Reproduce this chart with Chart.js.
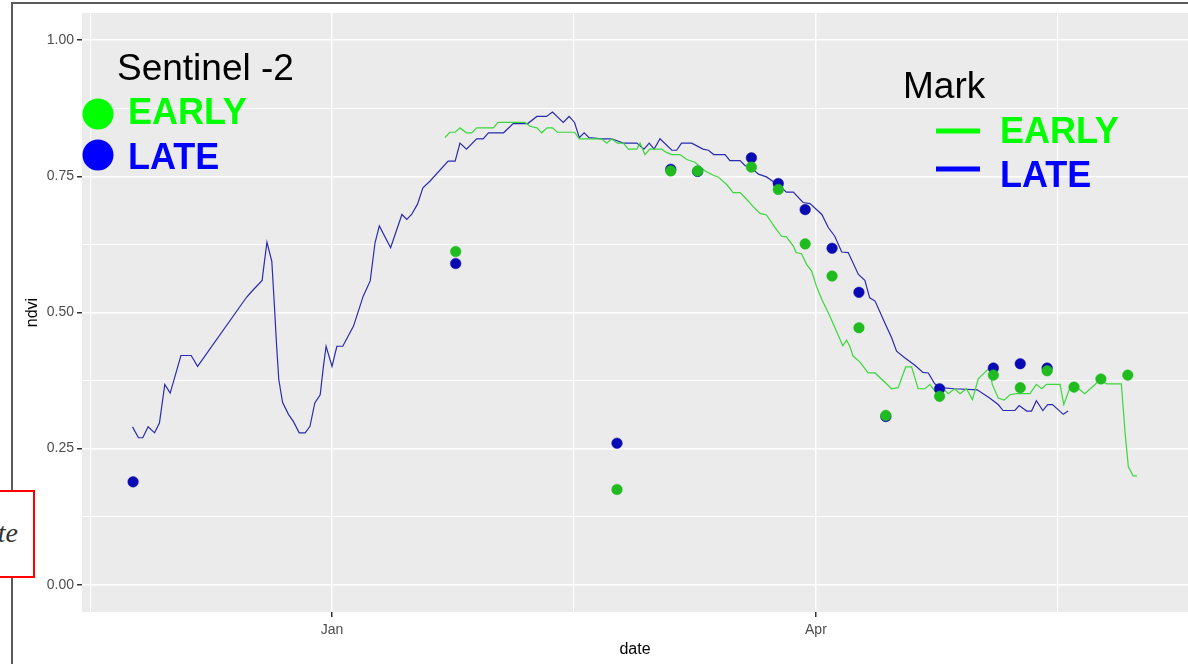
<!DOCTYPE html>
<html>
<head>
<meta charset="utf-8">
<title>ndvi</title>
<script src="https://cdn.jsdelivr.net/npm/chart.js@4.4.1/dist/chart.umd.min.js"></script>
<style>
  body { margin: 0; background: #fff; overflow: hidden; }
  #wrap { position: relative; width: 1188px; height: 664px; overflow: hidden; }
  #frame { position: absolute; left: 11px; top: 2px; width: 2000px; height: 2000px;
           border-left: 2px solid #5b5b5b; border-top: 2px solid #5b5b5b; }
  #ndviChart { position: absolute; left: 0; top: 0; }
  #note { position: absolute; left: -10px; top: 490px; width: 45px; height: 88px; box-sizing: border-box;
          border: 2px solid #ff0000; background: #fff; }
  #note span { position: absolute; right: 15px; top: 25px; line-height: 32px;
               font: italic 28px "Liberation Serif", "DejaVu Serif", serif; color: #333; }
</style>
</head>
<body>
<div id="wrap">
  <div id="frame"></div>
  <canvas id="ndviChart" width="1188" height="664"></canvas>
  <div id="note"><span>te</span></div>
</div>
<script>
// days are counted from 1 January (negative = previous December/November)
const s2Days  = [-37, 23, 53, 63, 68, 78, 83, 88, 93, 98, 103, 113, 123, 128, 133, 138, 143, 148];
const s2Early = [null, 0.612, 0.175, 0.760, 0.760, 0.767, 0.726, 0.626, 0.567, 0.472, 0.311, 0.346, 0.385, 0.362, 0.393, 0.363, 0.378, 0.385];
const s2Late  = [0.189, 0.590, 0.260, 0.763, 0.759, 0.784, 0.737, 0.689, 0.618, 0.537, 0.309, 0.360, 0.398, 0.406, 0.398, null, null, null];

const markLateDays = [
  -37.1, -36.0, -35.2, -34.2, -33.0, -32.1, -31.1, -30.1, -28.1, -26.2,
  -25.0, -15.9, -14.9, -13.0, -12.6, -12.1, -11.2, -10.8, -10.3, -9.9,
  -9.2, -8.1, -7.2, -6.1, -5.0, -4.1, -3.2, -2.2, -1.6, -1.1,
  0, 0.9, 2.0, 4.0, 5.8, 7.1, 8.0, 8.8, 10.9, 13.0,
  13.9, 14.8, 15.9, 16.9, 18.2, 21.6, 22.9, 23.8, 25.0, 26.9,
  28.1, 29.1, 31.9, 33.7, 36.4, 38.1, 39.9, 41.0, 43.0, 44.1,
  45.1, 46.0, 46.9, 47.8, 50.1, 52.0, 54.2, 56.7, 58.0, 59.0,
  59.9, 61.0, 63.2, 64.1, 65.0, 66.9, 69.0, 70.0, 71.0, 73.1,
  74.0, 75.9, 76.8, 78.3, 79.3, 80.8, 82.1, 83.3, 84.5, 85.8,
  87.6, 88.9, 91.1, 92.3, 93.5, 94.8, 96.0, 97.9, 99.1, 100.0,
  101.0, 102.8, 104.1, 105.0, 106.5, 108.4, 109.9, 110.9, 112.1, 113.1,
  115.8, 120.0, 122.3, 123.9, 124.8, 127.0, 127.8, 129.2, 130.1, 131.0,
  132.2, 133.1, 134.0, 136.0, 136.9
];
const markLate = [
  0.290, 0.270, 0.270, 0.290, 0.279, 0.297, 0.368, 0.352, 0.421, 0.421,
  0.401, 0.528, 0.539, 0.559, 0.591, 0.629, 0.594, 0.527, 0.438, 0.377,
  0.335, 0.313, 0.300, 0.279, 0.279, 0.291, 0.334, 0.349, 0.401, 0.438,
  0.401, 0.438, 0.438, 0.475, 0.530, 0.558, 0.628, 0.659, 0.619, 0.680,
  0.671, 0.680, 0.699, 0.729, 0.741, 0.778, 0.778, 0.811, 0.800, 0.819,
  0.819, 0.830, 0.830, 0.847, 0.847, 0.860, 0.860, 0.868, 0.849, 0.860,
  0.849, 0.821, 0.830, 0.821, 0.819, 0.819, 0.811, 0.811, 0.800, 0.811,
  0.800, 0.819, 0.798, 0.798, 0.811, 0.811, 0.800, 0.798, 0.790, 0.790,
  0.779, 0.779, 0.770, 0.763, 0.754, 0.749, 0.740, 0.732, 0.721, 0.721,
  0.702, 0.700, 0.680, 0.656, 0.640, 0.611, 0.610, 0.570, 0.559, 0.527,
  0.521, 0.481, 0.453, 0.429, 0.417, 0.403, 0.390, 0.389, 0.369, 0.362,
  0.360, 0.358, 0.343, 0.331, 0.320, 0.320, 0.329, 0.319, 0.319, 0.338,
  0.320, 0.331, 0.331, 0.313, 0.319
];

const markEarlyDays = [
  21.0, 21.9, 22.9, 23.8, 25.0, 26.0, 26.9, 30.0, 30.9, 35.9,
  36.8, 38.1, 39.0, 40.0, 41.0, 41.9, 45.1, 46.0, 50.1, 51.1,
  52.0, 53.1, 54.2, 55.1, 56.7, 57.3, 58.2, 59.1, 61.3, 62.2,
  63.2, 64.7, 66.0, 67.5, 69.4, 70.9, 71.8, 73.4, 74.6, 75.9,
  77.1, 78.3, 79.6, 80.8, 82.4, 83.6, 84.5, 85.8, 86.3, 87.3,
  88.3, 89.2, 90.1, 91.1, 92.6, 93.8, 95.0, 95.7, 96.3, 96.9,
  98.2, 99.7, 101.0, 104.1, 105.3, 106.7, 107.8, 109.0, 110.3, 111.2,
  112.4, 113.7, 114.6, 115.8, 116.8, 118.0, 119.1, 120.2, 121.4, 122.3,
  122.8, 123.9, 125.0, 126.1, 127.3, 129.8, 131.0, 132.0, 132.9, 135.4,
  136.1, 137.1, 138.2, 140.0, 141.6, 142.8, 144.1, 146.8, 147.5, 148.1,
  149.0, 149.7
];
const markEarly = [
  0.821, 0.831, 0.831, 0.839, 0.830, 0.830, 0.839, 0.839, 0.849, 0.849,
  0.842, 0.839, 0.830, 0.839, 0.839, 0.831, 0.831, 0.819, 0.819, 0.811,
  0.819, 0.811, 0.811, 0.800, 0.800, 0.811, 0.790, 0.800, 0.800, 0.794,
  0.790, 0.790, 0.781, 0.776, 0.760, 0.752, 0.749, 0.735, 0.720, 0.720,
  0.708, 0.695, 0.682, 0.679, 0.656, 0.640, 0.639, 0.622, 0.610, 0.608,
  0.588, 0.576, 0.548, 0.524, 0.493, 0.466, 0.439, 0.449, 0.438, 0.420,
  0.409, 0.389, 0.389, 0.360, 0.362, 0.400, 0.400, 0.360, 0.360, 0.368,
  0.352, 0.360, 0.351, 0.360, 0.351, 0.360, 0.340, 0.378, 0.390, 0.398,
  0.368, 0.343, 0.339, 0.349, 0.351, 0.351, 0.368, 0.360, 0.368, 0.368,
  0.331, 0.358, 0.365, 0.351, 0.365, 0.376, 0.369, 0.369, 0.279, 0.217,
  0.200, 0.200
];

// x grid: Jan / Apr are the major breaks, the others are minor lines
const xGridDays   = [-45, 0, 45, 90, 135];
const xGridLabels = ['', 'Jan', '', 'Apr', ''];
const yGridVals   = [0, 0.125, 0.25, 0.375, 0.5, 0.625, 0.75, 0.875, 1];
const yGridLabels = ['0.00', '', '0.25', '', '0.50', '', '0.75', '', '1.00'];

const FONT = '"Liberation Sans", Arial, sans-serif';

function toXY(days, vals) {
    return days.map((d, i) => ({ x: d, y: vals[i] })).filter(p => p.y !== null);
}

// grey ggplot panel behind the grid
const panelBg = {
    id: 'panelBg',
    beforeDraw(chart) {
        const { ctx, chartArea: a } = chart;
        ctx.save();
        ctx.fillStyle = '#ebebeb';
        ctx.fillRect(a.left, a.top, a.right - a.left, a.bottom - a.top);
        ctx.restore();
    }
};

// the two hand-made keys written over the panel
const keys = {
    id: 'keys',
    afterDraw(chart) {
        const c = chart.ctx;
        c.save();
        c.textBaseline = 'alphabetic';
        c.textAlign = 'left';

        c.fillStyle = '#000';
        c.font = '37px ' + FONT;
        c.fillText('Sentinel -2', 117, 80);
        c.fillText('Mark', 903, 98);

        c.font = 'bold 36px ' + FONT;
        c.fillStyle = '#00ff00';
        c.beginPath(); c.arc(98, 114, 15.5, 0, Math.PI * 2); c.fill();
        c.fillText('EARLY', 128, 124);
        c.fillText('EARLY', 1000, 143);
        c.fillStyle = '#0000ff';
        c.beginPath(); c.arc(98, 155, 15.5, 0, Math.PI * 2); c.fill();
        c.fillText('LATE', 128, 169);
        c.fillText('LATE', 1000, 187);

        c.lineWidth = 5;
        c.strokeStyle = '#00ff00';
        c.beginPath(); c.moveTo(936, 131); c.lineTo(980, 131); c.stroke();
        c.strokeStyle = '#0000ff';
        c.beginPath(); c.moveTo(936, 169); c.lineTo(980, 169); c.stroke();
        c.restore();
    }
};

const ctx = document.getElementById('ndviChart').getContext('2d');
const ndviChart = new Chart(ctx, {
    type: 'scatter',
    data: {
        datasets: [
            {
                label: 'S2 EARLY',
                data: toXY(s2Days, s2Early),
                pointRadius: 5.3,
                pointBackgroundColor: '#1fbb1f',
                pointBorderColor: '#1fbb1f',
                pointBorderWidth: 0.5
            },
            {
                label: 'S2 LATE',
                data: toXY(s2Days, s2Late),
                pointRadius: 5.3,
                pointBackgroundColor: '#0a0ab4',
                pointBorderColor: '#0a0ab4',
                pointBorderWidth: 0.5
            },
            {
                label: 'Mark EARLY',
                data: toXY(markEarlyDays, markEarly),
                showLine: true,
                borderColor: '#3ad83a',
                borderWidth: 1.2,
                pointRadius: 0
            },
            {
                label: 'Mark LATE',
                data: toXY(markLateDays, markLate),
                showLine: true,
                borderColor: '#2b2bb0',
                borderWidth: 1.2,
                pointRadius: 0
            }
        ]
    },
    options: {
        responsive: false,
        animation: false,
        devicePixelRatio: 1,
        layout: { autoPadding: false, padding: { top: 13, left: 0, right: 0, bottom: 0 } },
        plugins: { legend: { display: false }, tooltip: { enabled: false } },
        scales: {
            x: {
                type: 'linear',
                min: -46.5,
                max: 159.2,
                afterBuildTicks: s => { s.ticks = xGridDays.map(v => ({ value: v })); },
                afterFit: s => { s.height = 52; s.paddingLeft = 0; s.paddingRight = 0; },
                border: { display: false },
                grid: {
                    color: '#ffffff',
                    lineWidth: c => xGridLabels[c.index] ? 1.5 : 1.1,
                    tickColor: c => xGridLabels[c.index] ? '#333333' : 'rgba(0,0,0,0)',
                    tickLength: 5
                },
                ticks: {
                    autoSkip: false,
                    maxRotation: 0,
                    padding: 5,
                    color: '#4d4d4d',
                    font: { family: FONT, size: 14 },
                    callback: (v, i) => xGridLabels[i]
                },
                title: {
                    display: true,
                    text: 'date',
                    color: '#000',
                    font: { family: FONT, size: 16 },
                    padding: { top: 0, bottom: 5 }
                }
            },
            y: {
                min: -0.05,
                max: 1.05,
                afterBuildTicks: s => { s.ticks = yGridVals.map(v => ({ value: v })); },
                afterFit: s => { s.width = 82; s.paddingTop = 0; s.paddingBottom = 0; },
                border: { display: false },
                grid: {
                    color: '#ffffff',
                    lineWidth: c => yGridLabels[c.index] ? 1.5 : 1.1,
                    tickColor: c => yGridLabels[c.index] ? '#333333' : 'rgba(0,0,0,0)',
                    tickLength: 5
                },
                ticks: {
                    autoSkip: false,
                    padding: 3,
                    color: '#4d4d4d',
                    font: { family: FONT, size: 14 },
                    callback: (v, i) => yGridLabels[i]
                },
                title: {
                    display: true,
                    text: 'ndvi',
                    color: '#000',
                    font: { family: FONT, size: 16 },
                    padding: { top: 23, bottom: 0 }
                }
            }
        }
    },
    plugins: [panelBg, keys]
});
</script>
</body>
</html>
